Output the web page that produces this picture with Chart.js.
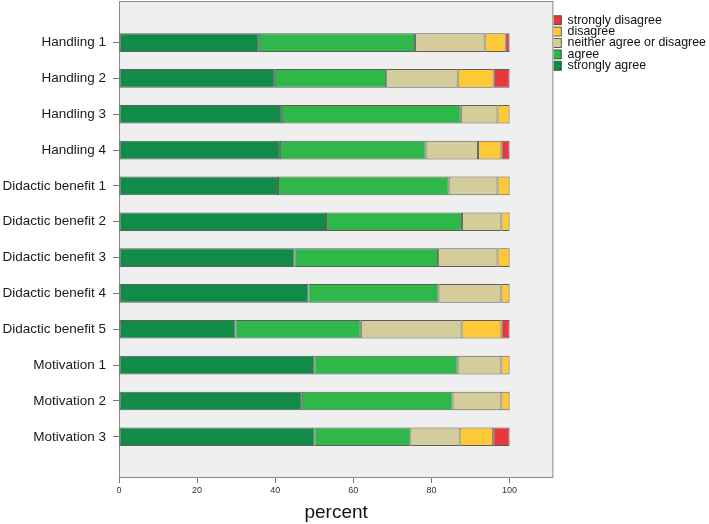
<!DOCTYPE html>
<html>
<head>
<meta charset="utf-8">
<script src="https://cdn.jsdelivr.net/npm/chart.js@4"></script>
<style>
  body { margin: 0; background: #fff; }
</style>
</head>
<body>
<canvas id="chart" width="709" height="524"></canvas>
<script>
const categories = ['Handling 1', 'Handling 2', 'Handling 3', 'Handling 4',
  'Didactic benefit 1', 'Didactic benefit 2', 'Didactic benefit 3', 'Didactic benefit 4', 'Didactic benefit 5',
  'Motivation 1', 'Motivation 2', 'Motivation 3'];
const stronglyAgree    = [35.8, 39.9, 41.7, 41.2, 40.7, 53.0, 44.9, 48.5, 29.8, 50.0, 46.8, 50.0];
const agree            = [40.0, 28.5, 45.8, 37.3, 43.7, 34.8, 36.8, 33.3, 32.1, 36.7, 38.6, 24.6];
const neither          = [17.8, 18.3, 9.4, 13.4, 12.5, 10.1, 15.2, 16.1, 25.8, 11.2, 12.5, 12.6];
const disagree         = [5.4, 9.2, 3.1, 6.0, 3.1, 2.1, 3.1, 2.1, 10.2, 2.1, 2.1, 8.6];
const stronglyDisagree = [1.0, 4.1, 0, 2.1, 0, 0, 0, 0, 2.1, 0, 0, 4.2];
const xTicks = [0, 20, 40, 60, 80, 100];

function toPoints(arr) {
  return arr.map((v, i) => ({ x: v || null, y: i }));
}

function ds(label, arr, color) {
  return {
    label: label,
    data: toPoints(arr),
    backgroundColor: color,
    borderColor: 'rgba(45,45,45,0.75)',
    borderWidth: 1,
    borderSkipped: false,
    barPercentage: 0.52,
    categoryPercentage: 1
  };
}

// grey plot background with a frame
const plotFrame = {
  id: 'plotFrame',
  beforeDatasetsDraw(chart) {
    const a = chart.chartArea, c = chart.ctx;
    c.save();
    c.fillStyle = '#efefef';
    c.fillRect(a.left, a.top, a.right - a.left, a.bottom - a.top);
    c.strokeStyle = '#8a8a8a';
    c.lineWidth = 1;
    c.strokeRect(a.left + 0.5, a.top + 0.5, a.right - a.left - 1, a.bottom - a.top - 1);
    c.restore();
  }
};

const font = "'Liberation Sans', Arial, sans-serif";

new Chart(document.getElementById('chart'), {
  type: 'bar',
  data: {
    datasets: [
      ds('strongly agree', stronglyAgree, '#128a48'),
      ds('agree', agree, '#30b74a'),
      ds('neither agree or disagree', neither, '#d4cd9b'),
      ds('disagree', disagree, '#fdc936'),
      ds('strongly disagree', stronglyDisagree, '#e8383d')
    ]
  },
  options: {
    indexAxis: 'y',
    responsive: false,
    animation: false,
    layout: { padding: { top: 1, right: -7, left: 0, bottom: 0 } },
    scales: {
      x: {
        type: 'linear',
        stacked: true,
        min: 0,
        max: 111.2,
        afterBuildTicks: s => { s.ticks = xTicks.map(v => ({ value: v })); },
        afterFit: s => { s.height = 46; s.paddingLeft = 0; s.paddingRight = 0; },
        grid: { drawOnChartArea: false, drawTicks: true, tickLength: 5, color: '#777' },
        border: { display: false },
        ticks: { color: '#333', font: { family: font, size: 9 }, padding: 2, maxRotation: 0 },
        title: { display: true, text: 'percent', color: '#111', font: { family: font, size: 19 }, padding: { top: 6, bottom: 0 } }
      },
      y: {
        type: 'linear',
        stacked: true,
        reverse: true,
        offset: false,
        min: -1.16,
        max: 12.15,
        afterBuildTicks: s => { s.ticks = categories.map((_, i) => ({ value: i })); },
        afterFit: s => { s.width = 119; s.paddingTop = 0; s.paddingBottom = 0; },
        grid: { offset: false, drawOnChartArea: false, drawTicks: true, tickLength: 6, color: '#777' },
        border: { display: false },
        ticks: {
          color: '#1a1a1a',
          font: { family: font, size: 13.5 },
          padding: 7,
          autoSkip: false,
          callback: v => categories[v]
        }
      }
    },
    plugins: {
      legend: {
        position: 'right',
        align: 'start',
        reverse: true,
        title: { display: true, text: ' ', font: { size: 8, lineHeight: 1.75 }, padding: 0 },
        labels: {
          boxWidth: 9,
          boxHeight: 9,
          padding: -1,
          color: '#111',
          font: { family: font, size: 12.4 }
        }
      },
      tooltip: { enabled: false }
    }
  },
  plugins: [plotFrame]
});
</script>
</body>
</html>
